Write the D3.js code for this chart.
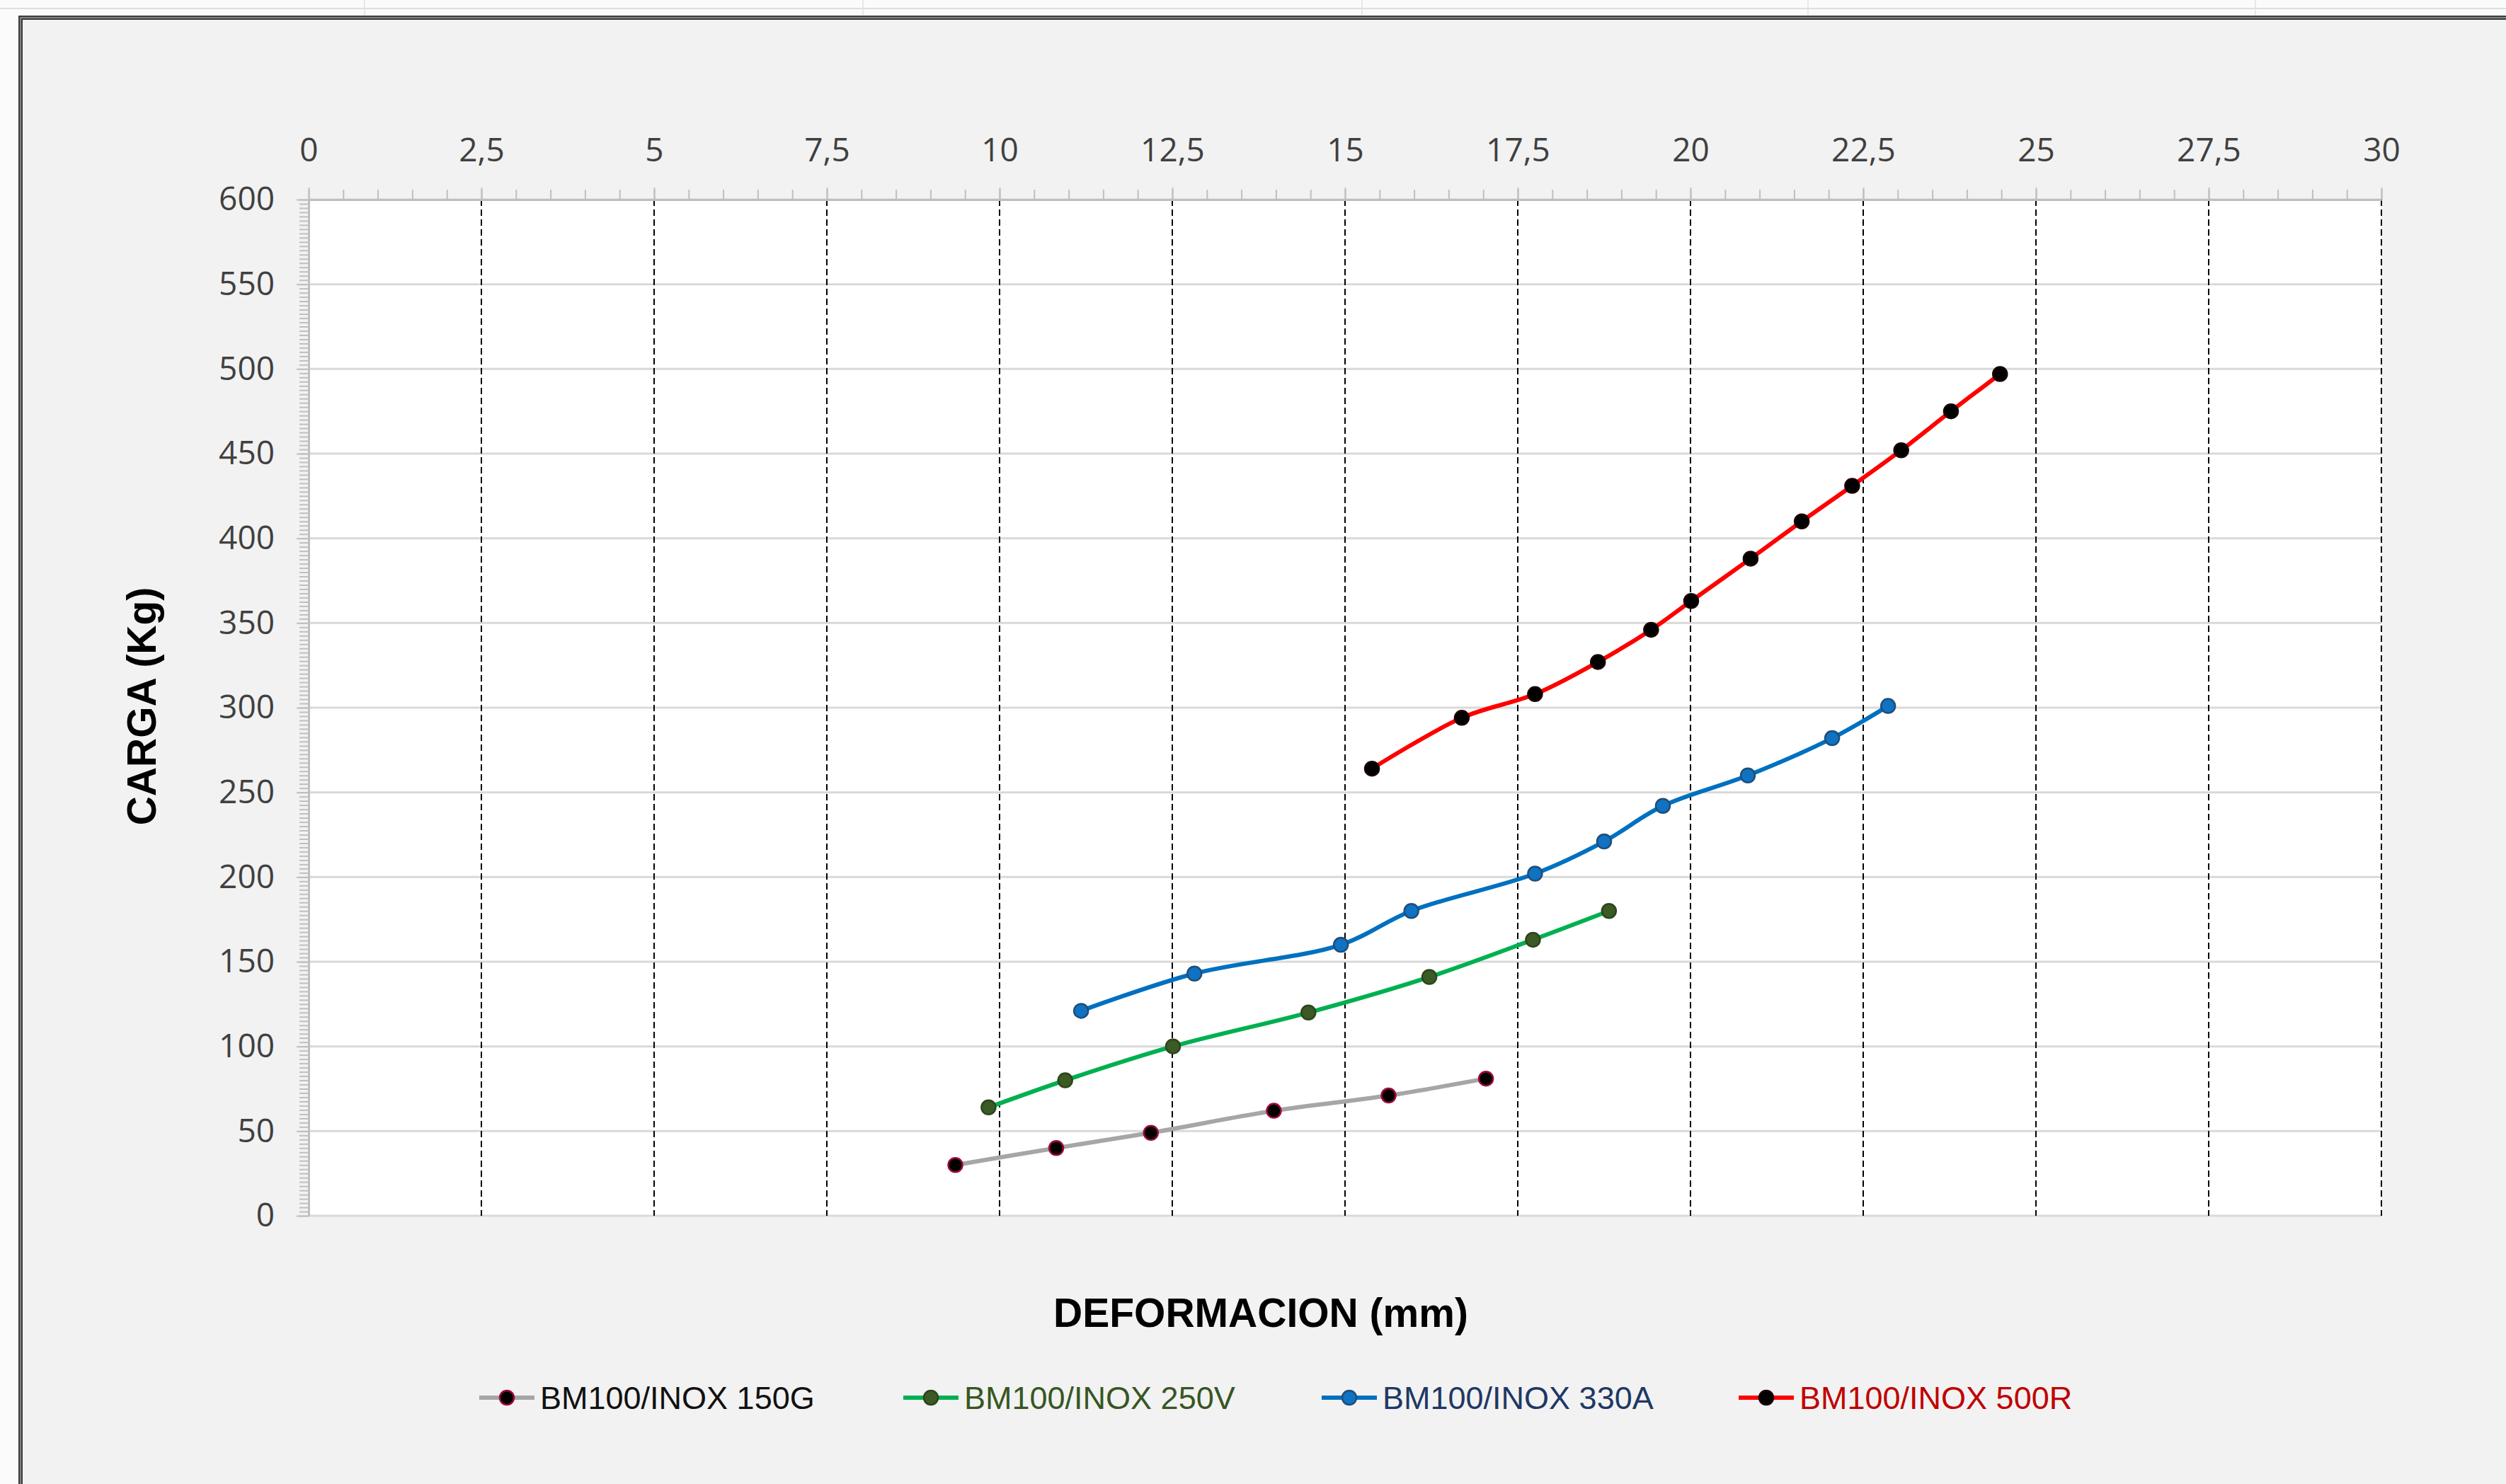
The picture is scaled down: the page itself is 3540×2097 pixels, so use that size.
<!DOCTYPE html>
<html>

<head>
    <title>carga deformacion</title>
    <script src="https://cdn.jsdelivr.net/npm/d3@7"></script>
    <style>
        body { margin: 0; background: #fafafa; }
    </style>
</head>

<body>
    <script>
        const width = 3540;
        const height = 2097;

        const xTicks = [0, 2.5, 5, 7.5, 10, 12.5, 15, 17.5, 20, 22.5, 25, 27.5, 30];
        const yTicks = [0, 50, 100, 150, 200, 250, 300, 350, 400, 450, 500, 550, 600];

        const seriesNames = ["BM100/INOX 150G", "BM100/INOX 250V", "BM100/INOX 330A", "BM100/INOX 500R"];

        const def150G = [9.36, 10.82, 12.19, 13.97, 15.63, 17.04];
        const carga150G = [30, 40, 49, 62, 71, 81];

        const def250V = [9.84, 10.95, 12.51, 14.47, 16.22, 17.72, 18.82];
        const carga250V = [64, 80, 100, 120, 141, 163, 180];

        const def330A = [11.18, 12.82, 14.94, 15.96, 17.75, 18.75, 19.60, 20.83, 22.05, 22.86];
        const carga330A = [121, 143, 160, 180, 202, 221, 242, 260, 282, 301];

        const def500R = [15.39, 16.69, 17.75, 18.66, 19.43, 20.01, 20.87, 21.61, 22.34, 23.05, 23.77, 24.48];
        const carga500R = [264, 294, 308, 327, 346, 363, 388, 410, 431, 452, 475, 497];

        const styles = [
            { line: "#a6a6a6", fill: "#000000", stroke: "#9b0a3c", text: "#111111" },
            { line: "#00b050", fill: "#3b5a25", stroke: "#2d451b", text: "#375623" },
            { line: "#0070c0", fill: "#0f72c2", stroke: "#1f4e79", text: "#1f3864" },
            { line: "#ff0000", fill: "#000000", stroke: "#1a0000", text: "#c00000" }
        ];

        const series = [
            d3.zip(def150G, carga150G),
            d3.zip(def250V, carga250V),
            d3.zip(def330A, carga330A),
            d3.zip(def500R, carga500R)
        ].map((pts, i) => ({ name: seriesNames[i], pts: pts, style: styles[i] }));

        const plot = { left: 436, right: 3364, top: 282, bottom: 1718 };

        const x = d3.scaleLinear().domain([0, 30]).range([plot.left, plot.right]);
        const y = d3.scaleLinear().domain([0, 600]).range([plot.bottom, plot.top]);

        const svg = d3.select("body").append("svg")
            .attr("width", width)
            .attr("height", height)
            .attr("viewBox", [0, 0, width, height])
            .style("display", "block");

        // spreadsheet cells behind the chart
        svg.append("rect").attr("width", width).attr("height", height).attr("fill", "#fbfbfb");
        svg.append("line").attr("x1", 0).attr("x2", width).attr("y1", 12).attr("y2", 12)
            .attr("stroke", "#d4d4d4").attr("stroke-width", 1.5);
        [515, 1219, 1924, 2554, 3186].forEach(cx => {
            svg.append("line").attr("x1", cx).attr("x2", cx).attr("y1", 0).attr("y2", 22)
                .attr("stroke", "#e2e2e2").attr("stroke-width", 1.5);
        });

        // chart area and frame (runs off the right and bottom edges)
        svg.append("rect")
            .attr("x", 29).attr("y", 25).attr("width", width + 20).attr("height", height + 20)
            .attr("fill", "#f2f2f2")
            .attr("stroke", "#3c3c3c").attr("stroke-width", 6);
        svg.append("rect")
            .attr("x", 29).attr("y", 25).attr("width", width + 20).attr("height", height + 20)
            .attr("fill", "none")
            .attr("stroke", "#9a9a9a").attr("stroke-width", 1.5);

        svg.append("rect")
            .attr("x", plot.left).attr("y", plot.top)
            .attr("width", plot.right - plot.left).attr("height", plot.bottom - plot.top)
            .attr("fill", "#ffffff");

        // horizontal grid
        svg.append("g")
            .selectAll("line")
            .data(yTicks)
            .join("line")
            .attr("x1", plot.left).attr("x2", plot.right)
            .attr("y1", d => y(d)).attr("y2", d => y(d))
            .attr("stroke", "#d9d9d9").attr("stroke-width", 3);

        // vertical dashed grid
        svg.append("g")
            .selectAll("line")
            .data(xTicks.filter(d => d > 0))
            .join("line")
            .attr("x1", d => x(d)).attr("x2", d => x(d))
            .attr("y1", plot.top).attr("y2", plot.bottom)
            .attr("stroke", "#000").attr("stroke-width", 2)
            .attr("stroke-dasharray", "9,5");

        const fmt = d => String(d).replace(".", ",");

        // minor ticks
        svg.append("g")
            .attr("transform", `translate(0,${plot.top})`)
            .call(d3.axisTop(x).tickValues(d3.range(0, 30.01, 0.5)).tickSize(14).tickFormat(""))
            .call(g => g.select(".domain").remove())
            .call(g => g.selectAll(".tick line").attr("stroke", "#bfbfbf").attr("stroke-width", 2));

        svg.append("g")
            .attr("transform", `translate(${plot.left},0)`)
            .call(d3.axisLeft(y).tickValues(d3.range(0, 600.01, 2.5)).tickSize(13).tickFormat(""))
            .call(g => g.select(".domain").remove())
            .call(g => g.selectAll(".tick line").attr("stroke", "#bfbfbf").attr("stroke-width", 2));

        // main axes
        svg.append("g")
            .attr("transform", `translate(0,${plot.top})`)
            .call(d3.axisTop(x).tickValues(xTicks).tickSize(17).tickPadding(37).tickFormat(fmt).tickSizeOuter(0))
            .call(g => g.select(".domain").attr("stroke", "#bfbfbf").attr("stroke-width", 3))
            .call(g => g.selectAll(".tick line").attr("stroke", "#bfbfbf").attr("stroke-width", 2))
            .call(g => g.selectAll("text")
                .attr("fill", "#404040")
                .style("font-family", "'Open Sans', sans-serif")
                .style("font-size", "46px"));

        svg.append("g")
            .attr("transform", `translate(${plot.left},0)`)
            .call(d3.axisLeft(y).tickValues(yTicks).tickSize(17).tickPadding(31).tickSizeOuter(0))
            .call(g => g.select(".domain").attr("stroke", "#bfbfbf").attr("stroke-width", 3))
            .call(g => g.selectAll(".tick line").attr("stroke", "#bfbfbf").attr("stroke-width", 2))
            .call(g => g.selectAll("text")
                .attr("fill", "#404040")
                .style("font-family", "'Open Sans', sans-serif")
                .style("font-size", "46px"));

        // series
        const line = d3.line()
            .x(d => x(d[0]))
            .y(d => y(d[1]))
            .curve(d3.curveCatmullRom);

        const sg = svg.append("g")
            .selectAll("g")
            .data(series)
            .join("g");

        sg.append("path")
            .attr("d", d => line(d.pts))
            .attr("fill", "none")
            .attr("stroke", d => d.style.line)
            .attr("stroke-width", 6)
            .attr("stroke-linejoin", "round")
            .attr("stroke-linecap", "round");

        sg.each(function (s) {
            d3.select(this).selectAll("circle")
                .data(s.pts)
                .join("circle")
                .attr("cx", d => x(d[0]))
                .attr("cy", d => y(d[1]))
                .attr("r", 10)
                .attr("fill", s.style.fill)
                .attr("stroke", s.style.stroke)
                .attr("stroke-width", 2.5);
        });

        // axis titles
        svg.append("text")
            .attr("transform", "translate(199,998) rotate(-90)")
            .attr("text-anchor", "middle")
            .attr("dy", "0.36em")
            .style("font-family", "'Liberation Sans', Arial, sans-serif")
            .style("font-weight", "bold")
            .style("font-size", "57px")
            .text("CARGA (Kg)");

        svg.append("text")
            .attr("x", 1781)
            .attr("y", 1854)
            .attr("text-anchor", "middle")
            .attr("dy", "0.36em")
            .style("font-family", "'Liberation Sans', Arial, sans-serif")
            .style("font-weight", "bold")
            .style("font-size", "57px")
            .text("DEFORMACION (mm)");

        // legend
        const legendX = [677, 1276, 1867, 2456];
        const legendY = 1975;

        const lg = svg.append("g")
            .selectAll("g")
            .data(series)
            .join("g")
            .attr("transform", (d, i) => `translate(${legendX[i]},${legendY})`);

        lg.append("line")
            .attr("x1", 0).attr("x2", 78)
            .attr("stroke", d => d.style.line)
            .attr("stroke-width", 6);

        lg.append("circle")
            .attr("cx", 39)
            .attr("r", 10)
            .attr("fill", d => d.style.fill)
            .attr("stroke", d => d.style.stroke)
            .attr("stroke-width", 2.5);

        lg.append("text")
            .attr("x", 86)
            .attr("dy", "0.36em")
            .attr("fill", d => d.style.text)
            .style("font-family", "'Liberation Sans', Arial, sans-serif")
            .style("font-size", "45px")
            .text(d => d.name);
    </script>
</body>

</html>
